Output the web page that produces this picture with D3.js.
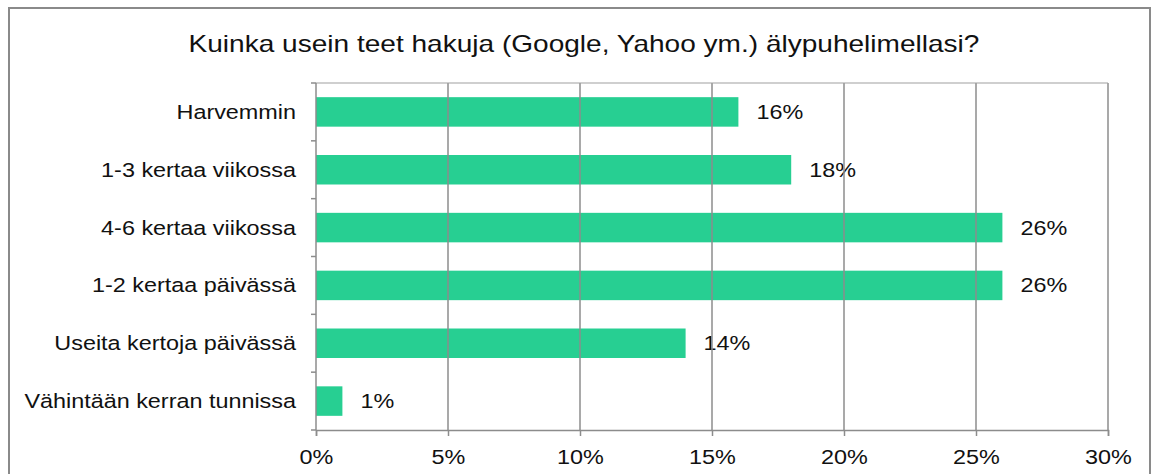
<!DOCTYPE html>
<html>
<head>
<meta charset="utf-8">
<script src="https://cdn.jsdelivr.net/npm/d3@7"></script>
<style>
  html, body { margin: 0; padding: 0; background: #fff; }
  svg { display: block; font-family: "Liberation Sans", Arial, sans-serif; }
</style>
</head>
<body>
<svg id="chart" width="1160" height="474"></svg>
<script>
// Survey: how often smartphone searches are made
const categories = [
  "Harvemmin",
  "1-3 kertaa viikossa",
  "4-6 kertaa viikossa",
  "1-2 kertaa päivässä",
  "Useita kertoja päivässä",
  "Vähintään kerran tunnissa"
];
const shares = [16, 18, 26, 26, 14, 1];
const xTicks = [0, 5, 10, 15, 20, 25, 30];
const titleText = "Kuinka usein teet hakuja (Google, Yahoo ym.) älypuhelimellasi?";

const W = 1160, H = 474;
const svg = d3.select("#chart");
const gridColor = "#8c8c8c";
const barColor = "#27cf92";
const textColor = "#111";
const stretch = 1.2;   // wide text rendering

// horizontally widen a text element around its anchor point
function widen(sel, k) {
  sel.attr("transform", function () {
    const x = +this.getAttribute("x") || 0;
    const y = +this.getAttribute("y") || 0;
    return `translate(${x},${y}) scale(${k},1) translate(${-x},${-y})`;
  });
}

// outer frame
svg.append("rect")
  .attr("x", 9).attr("y", 8)
  .attr("width", 1141).attr("height", 480)
  .attr("fill", "none")
  .attr("stroke", "#8a8a8a")
  .attr("stroke-width", 2);

svg.append("text")
  .attr("x", 584).attr("y", 52)
  .attr("text-anchor", "middle")
  .attr("font-size", 23)
  .attr("fill", textColor)
  .text(titleText)
  .call(widen, 1.22);

const plot = { left: 316, right: 1108, top: 83, bottom: 430 };

const x = d3.scaleLinear().domain([0, 30]).range([plot.left, plot.right]);
const y = d3.scaleBand().domain(categories)
  .range([plot.top, plot.bottom])
  .paddingInner(0.49).paddingOuter(0.245);

// bars
svg.append("g").selectAll("rect").data(categories).join("rect")
  .attr("x", x(0))
  .attr("y", d => y(d))
  .attr("width", (d, i) => x(shares[i]) - x(0))
  .attr("height", y.bandwidth())
  .attr("fill", barColor);

// value labels
svg.append("g").selectAll("text").data(categories).join("text")
  .attr("x", (d, i) => x(shares[i]) + 18)
  .attr("y", d => y(d) + y.bandwidth() / 2)
  .attr("dy", "0.36em")
  .attr("font-size", 19.5)
  .attr("fill", textColor)
  .text((d, i) => shares[i] + "%")
  .call(widen, stretch);

// vertical gridlines (drawn over the value labels)
svg.append("g").selectAll("line").data(xTicks.slice(1)).join("line")
  .attr("x1", d => x(d)).attr("x2", d => x(d))
  .attr("y1", plot.top).attr("y2", plot.bottom)
  .attr("stroke", gridColor).attr("stroke-width", 1.5);

// top edge of plot
svg.append("line")
  .attr("x1", plot.left).attr("x2", plot.right)
  .attr("y1", plot.top).attr("y2", plot.top)
  .attr("stroke", "#a0a0a0").attr("stroke-width", 1.2);

// x axis
const xAxis = svg.append("g")
  .attr("transform", `translate(0,${plot.bottom})`)
  .call(d3.axisBottom(x).tickValues(xTicks).tickFormat(d => d + "%")
    .tickSize(6).tickPadding(14));
xAxis.select(".domain").attr("stroke", gridColor).attr("stroke-width", 1.5);
xAxis.selectAll(".tick line").attr("stroke", gridColor).attr("stroke-width", 1.5);
xAxis.selectAll(".tick text")
  .attr("font-size", 19.5)
  .attr("font-family", "Liberation Sans, Arial, sans-serif")
  .attr("fill", textColor)
  .attr("transform", `scale(${stretch},1)`);

// y axis: line with ticks at category boundaries
const bounds = d3.range(categories.length + 1).map(i => plot.top + i * y.step());
svg.append("line")
  .attr("x1", plot.left).attr("x2", plot.left)
  .attr("y1", plot.top).attr("y2", plot.bottom)
  .attr("stroke", gridColor).attr("stroke-width", 1.5);
svg.append("g").selectAll("line").data(bounds).join("line")
  .attr("x1", plot.left - 5).attr("x2", plot.left)
  .attr("y1", d => d).attr("y2", d => d)
  .attr("stroke", gridColor).attr("stroke-width", 1.5);

// category labels
svg.append("g").selectAll("text").data(categories).join("text")
  .attr("x", plot.left - 20)
  .attr("y", d => y(d) + y.bandwidth() / 2)
  .attr("dy", "0.36em")
  .attr("text-anchor", "end")
  .attr("font-size", 19.5)
  .attr("fill", textColor)
  .text(d => d)
  .call(widen, stretch);
</script>
</body>
</html>
